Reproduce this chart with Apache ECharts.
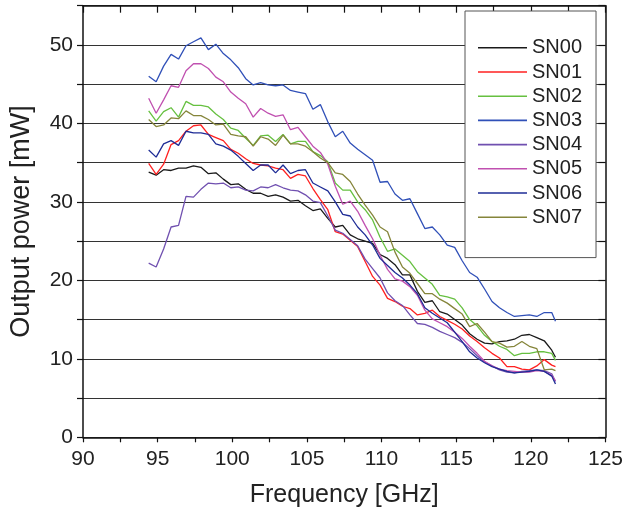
<!DOCTYPE html>
<html>
<head>
<meta charset="utf-8">
<script src="https://cdn.jsdelivr.net/npm/echarts@6/dist/echarts.min.js"></script>
<style>
html,body{margin:0;padding:0;background:#fff;}
#chart{width:626px;height:515px;}
</style>
</head>
<body>
<div id="chart"></div>
<script>
const freq = [94.4, 94.9, 95.4, 95.9, 96.4, 96.9, 97.4, 97.9, 98.4, 98.9, 99.4, 99.9, 100.4, 100.9, 101.4, 101.9, 102.4, 102.9, 103.4, 103.9, 104.4, 104.9, 105.4, 105.9, 106.4, 106.9, 107.4, 107.9, 108.4, 108.9, 109.4, 109.9, 110.4, 110.9, 111.4, 111.9, 112.4, 112.9, 113.4, 113.9, 114.4, 114.9, 115.4, 115.9, 116.4, 116.9, 117.4, 117.9, 118.4, 118.9, 119.4, 119.9, 120.4, 120.9, 121.4, 121.65];

const SN00 = [33.8, 33.4, 34.1, 34.0, 34.3, 34.3, 34.6, 34.4, 33.6, 33.7, 32.9, 32.2, 32.3, 31.6, 31.1, 31.1, 30.7, 30.9, 30.6, 30.1, 30.2, 29.5, 28.9, 29.1, 27.9, 26.8, 27.0, 25.8, 25.3, 25.0, 24.7, 23.3, 22.8, 22.0, 20.7, 20.7, 18.6, 17.2, 17.4, 16.0, 15.7, 15.0, 14.3, 13.2, 12.5, 12.0, 11.9, 12.2, 12.3, 12.5, 13.0, 13.1, 12.7, 12.3, 11.1, 10.2];
const SN01 = [34.9, 33.5, 34.8, 37.3, 37.8, 39.0, 39.7, 39.8, 38.6, 38.2, 37.8, 36.7, 36.2, 35.5, 34.9, 34.7, 34.6, 34.3, 34.1, 33.0, 33.5, 33.3, 31.7, 30.3, 29.0, 26.2, 25.9, 25.1, 24.3, 22.4, 20.5, 19.4, 17.7, 17.3, 16.7, 16.4, 15.6, 15.8, 16.2, 15.4, 14.9, 14.4, 13.8, 12.9, 12.2, 11.4, 10.7, 10.1, 9.0, 9.0, 8.7, 8.6, 9.1, 9.9, 9.2, 9.0];
const SN02 = [41.6, 40.3, 41.5, 42.0, 40.8, 42.8, 42.3, 42.3, 42.1, 41.2, 40.5, 39.4, 39.1, 38.1, 37.2, 38.4, 38.5, 37.7, 38.6, 37.4, 37.7, 37.7, 36.4, 35.9, 35.1, 32.4, 31.5, 31.5, 30.0, 29.0, 27.7, 25.5, 23.7, 24.0, 23.2, 22.4, 21.1, 20.3, 19.5, 18.1, 17.9, 17.6, 16.5, 15.0, 14.2, 13.0, 12.2, 11.6, 11.2, 10.4, 10.7, 10.7, 10.9, 10.9, 10.7, 9.8];
const SN03 = [46.0, 45.3, 47.3, 48.8, 48.2, 49.9, 50.4, 50.9, 49.4, 50.1, 48.9, 48.1, 47.1, 45.7, 44.9, 45.2, 44.9, 44.8, 44.9, 44.2, 44.0, 43.8, 41.8, 42.4, 40.2, 38.3, 39.0, 37.5, 36.7, 36.0, 35.3, 32.5, 32.6, 31.0, 30.2, 30.4, 28.5, 26.6, 26.8, 25.8, 24.5, 24.2, 22.5, 21.0, 20.4, 18.9, 17.3, 16.5, 15.9, 15.4, 15.5, 15.6, 15.4, 15.9, 15.9, 14.8];
const SN04 = [22.2, 21.7, 24.0, 26.8, 27.0, 30.7, 30.6, 31.6, 32.4, 32.3, 32.4, 31.8, 31.9, 31.5, 31.4, 31.9, 31.8, 32.2, 31.8, 31.5, 31.4, 30.9, 30.1, 29.9, 28.2, 26.4, 26.0, 25.2, 24.4, 22.7, 21.5, 20.3, 18.4, 17.4, 16.8, 15.6, 14.5, 14.4, 14.0, 13.5, 13.1, 12.7, 12.1, 11.3, 10.4, 9.6, 9.1, 8.6, 8.3, 8.2, 8.4, 8.5, 8.6, 8.5, 8.1, 7.1];
const SN05 = [43.2, 41.3, 43.0, 44.8, 44.6, 46.7, 47.6, 47.6, 47.0, 45.9, 45.3, 44.0, 43.2, 42.5, 40.8, 41.9, 41.3, 40.9, 41.1, 39.2, 39.5, 38.3, 37.1, 36.3, 34.8, 32.0, 29.7, 30.1, 28.8, 27.0, 25.3, 23.2, 21.4, 20.2, 19.9, 19.2, 18.1, 16.2, 15.1, 14.6, 14.1, 13.4, 12.6, 11.6, 10.7, 9.7, 9.1, 8.7, 8.5, 8.4, 8.3, 8.3, 8.5, 8.4, 7.9, 7.2];
const SN06 = [36.6, 35.7, 37.4, 37.8, 37.2, 39.0, 38.8, 38.8, 38.6, 37.4, 37.1, 36.6, 35.8, 34.9, 34.0, 34.7, 34.7, 33.7, 34.7, 33.6, 34.0, 34.1, 32.4, 31.9, 31.4, 30.0, 28.4, 28.2, 26.8, 25.8, 24.5, 22.8, 21.9, 21.0, 20.3, 19.4, 18.3, 16.5, 15.8, 15.2, 14.6, 13.4, 12.2, 10.9, 10.1, 9.5, 9.0, 8.7, 8.4, 8.2, 8.3, 8.4, 8.6, 8.4, 7.8, 6.8];
const SN07 = [40.5, 39.6, 39.8, 40.7, 40.6, 41.6, 41.0, 41.0, 40.5, 39.8, 39.9, 38.6, 38.4, 38.3, 37.1, 38.3, 38.0, 37.2, 38.5, 37.4, 37.4, 37.1, 36.4, 35.6, 35.0, 33.7, 33.5, 32.6, 31.0, 29.6, 28.3, 26.8, 26.2, 23.6, 21.7, 20.9, 19.6, 18.3, 18.3, 17.6, 17.1, 16.4, 15.7, 14.1, 14.5, 13.4, 12.2, 12.0, 11.5, 11.6, 12.2, 11.6, 11.3, 8.6, 8.7, 8.5];

const seriesNames = ['SN00', 'SN01', 'SN02', 'SN03', 'SN04', 'SN05', 'SN06', 'SN07'];
const seriesValues = [SN00, SN01, SN02, SN03, SN04, SN05, SN06, SN07];
const seriesColors = ['#1a1a1a', '#ff2020', '#66c040', '#3050b8', '#7050b0', '#c050b0', '#1e2c96', '#85853a'];

const FONT = 'Liberation Sans, Arial, Helvetica, sans-serif';
const chart = echarts.init(document.getElementById('chart'), null, {renderer: 'canvas'});

const series = seriesNames.map((name, i) => ({
  name: name,
  type: 'line',
  xAxisIndex: 0,
  yAxisIndex: 0,
  data: freq.map((f, j) => [f, seriesValues[i][j]]),
  showSymbol: false,
  symbol: 'none',
  color: seriesColors[i],
  lineStyle: {width: 1.3, color: seriesColors[i]},
  emphasis: {disabled: true},
  z: 3
}));

const xBase = {
  type: 'value', min: 90, max: 125, interval: 5,
  axisLine: {show: true, onZero: false, lineStyle: {color: '#111', width: 1.5}},
  splitLine: {show: false}
};
const yBase = {
  type: 'value', min: 0, max: 55, interval: 5,
  axisLine: {show: true, onZero: false, lineStyle: {color: '#111', width: 1.5}}
};

chart.setOption({
  animation: false,
  backgroundColor: '#fff',
  textStyle: {fontFamily: FONT},
  grid: {left: 82.7, right: 18.5, top: 5.7, bottom: 77.7, containLabel: false},
  legend: {
    orient: 'vertical',
    left: 465, top: 11,
    padding: [24.7, 14, 28.3, 13],
    icon: 'rect',
    itemWidth: 49, itemHeight: 1.6, itemGap: 0,
    backgroundColor: '#fff',
    borderColor: '#555', borderWidth: 1,
    textStyle: {fontFamily: FONT, fontSize: 20, color: '#222', lineHeight: 24.2},
    data: seriesNames,
    selectedMode: false
  },
  xAxis: [
    Object.assign({}, xBase, {
      position: 'bottom',
      name: 'Frequency [GHz]', nameLocation: 'middle', nameGap: 45,
      nameTextStyle: {fontFamily: FONT, fontSize: 25, color: '#222'},
      axisTick: {show: true, inside: false, length: 5, lineStyle: {color: '#111', width: 1.2}},
      minorTick: {show: true, splitNumber: 2, length: 5, lineStyle: {color: '#111', width: 1.2}},
      axisLabel: {show: true, fontFamily: FONT, fontSize: 21, color: '#222', margin: 11}
    }),
    Object.assign({}, xBase, {
      position: 'top',
      axisTick: {show: true, inside: true, length: 7, lineStyle: {color: '#111', width: 1.2}},
      minorTick: {show: true, splitNumber: 2, length: 7, lineStyle: {color: '#111', width: 1.2}},
      axisLabel: {show: false}
    })
  ],
  yAxis: [
    Object.assign({}, yBase, {
      position: 'left',
      name: 'Output power [mW]', nameLocation: 'middle', nameGap: 48,
      nameTextStyle: {fontFamily: FONT, fontSize: 27, color: '#222'},
      axisTick: {show: true, inside: false, length: 6, lineStyle: {color: '#111', width: 1.2}},
      axisLabel: {
        show: true, fontFamily: FONT, fontSize: 21, color: '#222', margin: 10,
        formatter: v => (v % 10 === 0 && v <= 50) ? String(v) : ''
      },
      splitLine: {show: true, lineStyle: {color: '#333', width: 1.2}}
    }),
    Object.assign({}, yBase, {
      position: 'right',
      axisTick: {show: true, inside: true, length: 7, lineStyle: {color: '#111', width: 1.2}},
      axisLabel: {show: false},
      splitLine: {show: false}
    })
  ],
  series: series
});
</script>
</body>
</html>
